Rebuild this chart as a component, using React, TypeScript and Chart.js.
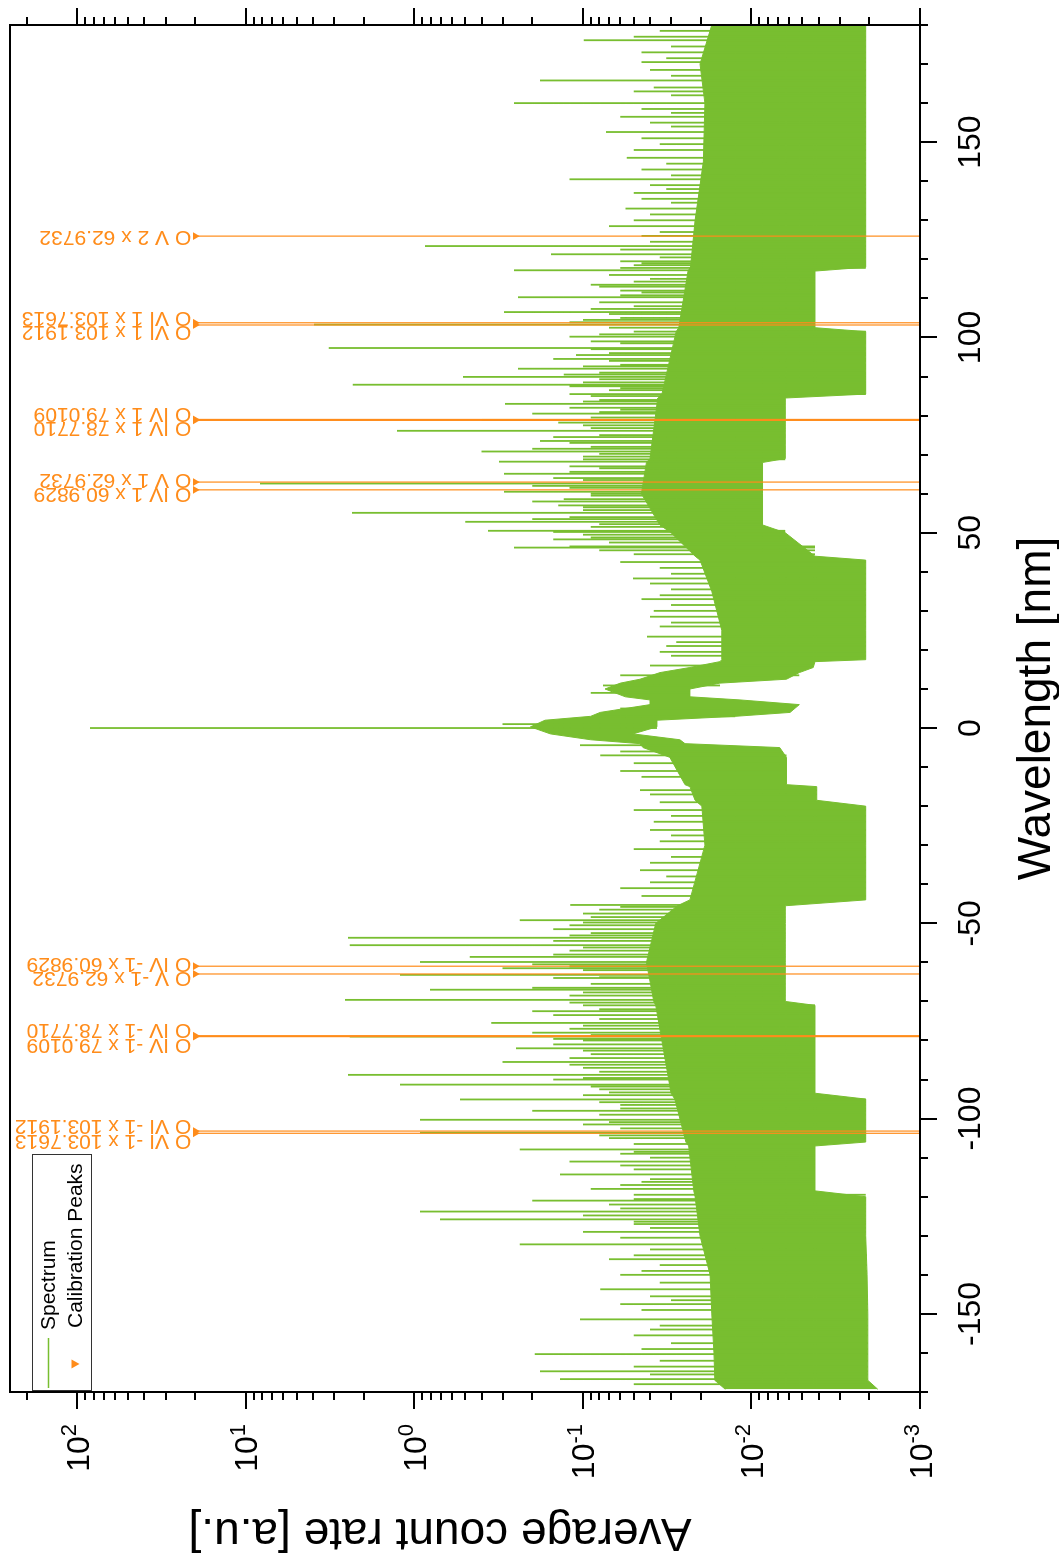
import React, { useEffect, useRef } from "react";
import { Chart, registerables } from "chart.js";

Chart.register(...registerables);

// ---- canvas of the un-rotated chart (the page shows it turned 90° counter-clockwise)
const W = 1559;
const H = 1059;
const GREEN = "rgb(120,190,48)";
const ORANGE = "rgb(255,140,26)";
const FONT = '"Liberation Sans", Arial, Helvetica, sans-serif';

// ---- axis ranges
const xMin = -170;
const xMax = 180;
const yMin = 1e-3;
const yMax = Math.pow(10, 2.4);

// ---- spectrum: dense band (upper / lower envelope of the noisy trace)
const bandWavelength = [
  -169.3, -167, -160, -150, -140, -130, -120, -118.5, -107, -106, -95, -93.5, -71, -70, -60, -50,
  -45.5, -44, -30, -20, -18.5, -15, -14.5, -7.5, -5, -4, -3, -1.5, 0.3, 2.0, 3.0, 4.0, 6.0, 7.2,
  8.0, 10.0, 11.5, 12.5, 14.2, 15.5, 17.0, 17.5, 25, 35, 43, 44, 50, 52, 60, 68, 69, 84.5, 85.5,
  101.5, 102.5, 117, 118, 130, 145, 160, 170, 180,
];
const bandUpper = [
  0.0143, 0.0165, 0.0167, 0.0172, 0.0176, 0.0202, 0.0216, 0.022, 0.0236, 0.0245, 0.0285, 0.03,
  0.037, 0.038, 0.042, 0.037, 0.0275, 0.0232, 0.0189, 0.0197, 0.0216, 0.0232, 0.0248, 0.0305,
  0.044, 0.0459, 0.09, 0.156, 0.205, 0.168, 0.09, 0.079, 0.04, 0.04, 0.056, 0.074, 0.06, 0.0459,
  0.0349, 0.0232, 0.0154, 0.015, 0.015, 0.0172, 0.0202, 0.0216, 0.03, 0.035, 0.045, 0.042,
  0.04, 0.036, 0.034, 0.028, 0.027, 0.0238, 0.023, 0.0216, 0.0193, 0.0189, 0.0202, 0.0172,
];
const bandLower = [
  0.00178, 0.00204, 0.00204, 0.00204, 0.00206, 0.0021, 0.0021, 0.0042, 0.0042, 0.0021, 0.0021,
  0.0042, 0.0042, 0.0063, 0.0063, 0.0063, 0.0063, 0.0021, 0.0021, 0.0021, 0.0041, 0.0041, 0.0062,
  0.0062, 0.0068, 0.0248, 0.0266, 0.0505, 0.0364, 0.0364, 0.0125, 0.0059, 0.0052, 0.0117, 0.0232,
  0.0232, 0.0154, 0.0062, 0.0052, 0.0043, 0.0042, 0.0021, 0.0021, 0.0021, 0.0021, 0.0042, 0.0063,
  0.0086, 0.0086, 0.0086, 0.0063, 0.0063, 0.0021, 0.0021, 0.0042, 0.0042, 0.0021, 0.0021, 0.0021,
  0.0021, 0.0021, 0.0021,
];

// ---- spectrum: tall individual spikes above the band
const spikeWavelength = [
  -166.7, -164.7, -160.3, -155.5, -151.4, -147.5, -143.7, -140, -136, -132.2, -129, -125.8, -123.8,
  -121, -118, -114.3, -111, -107.9, -103.6, -100.3, -98, -95.1, -91.3, -88.8, -85.5, -82, -79.0,
  -75.5, -72.5, -69.6, -67.0, -63.2, -61.5, -59.9, -58.6, -55.6, -53.7, -51.5, -49.2, -45.3, -41,
  -36.4, -31, -26.1, -21, -15.9, -11, -7.0, -4.4, 0.0, 3.0, 10.9, 19.5, 23.4, 28.5, 33, 38.3,
  42.5, 46.2, 48.3, 50.5, 52.8, 55.1, 58.0, 60.5, 62.6, 65.1, 68.2, 70.8, 73.5, 76.1, 78.9, 80.5,
  83.0, 85.5, 87.9, 89.9, 92.0, 94.5, 97.3, 100.2, 103.3, 106.5, 110.3, 113.5, 117.2, 119.5, 121.3,
  123.4, 128.5, 133.0, 137, 140.5, 146, 151.0, 152.6, 156.5, 160.0, 163, 165.8, 170.5, 176.1,
];
const spikeValue = [
  0.137, 0.18, 0.193, 0.05, 0.104, 0.06, 0.079, 0.06, 0.07, 0.237, 0.1, 0.706, 0.927, 0.2, 0.09,
  0.137, 0.12, 0.237, 0.927, 0.927, 0.2, 0.537, 1.22, 2.48, 0.3, 0.25, 2.42, 0.35, 0.2, 2.58,
  0.809, 1.22, 0.3, 0.927, 0.469, 2.42, 2.48, 0.15, 0.237, 0.119, 0.06, 0.0459, 0.05, 0.04, 0.05,
  0.0459, 0.06, 0.079, 0.104, 84.3, 0.0826, 0.076, 0.035, 0.0417, 0.04, 0.045, 0.0505, 0.06,
  0.257, 0.15, 0.366, 0.5, 2.35, 0.2, 0.294, 8.26, 0.294, 0.315, 0.4, 0.18, 1.27, 0.4, 0.2, 0.29,
  0.12, 2.32, 0.515, 0.243, 0.15, 3.22, 0.12, 3.95, 0.294, 0.243, 0.09, 0.257, 0.06, 0.155, 0.867,
  0.07, 0.056, 0.05, 0.12, 0.055, 0.045, 0.073, 0.06, 0.257, 0.05, 0.18, 0.045, 0.099,
];

// ---- spectrum: short spikes that make the ragged edge of the band
const minorSpikeWavelength = [
  -168, -165.5, -163.5, -162, -159, -157.5, -154, -153, -149, -146.5, -145.5, -142, -139, -137.5,
  -135, -133.5, -130.5, -128, -127, -124.8, -122, -119.5, -117, -115.5, -113, -110, -109, -106.5,
  -105, -102.5, -101.5, -99, -96.5, -94, -92.5, -90, -87, -84.5, -83.5, -81, -80, -78, -77, -74.5,
  -73.5, -71, -68.5, -66.5, -65.5, -64, -62, -60.5, -57, -54.5, -52.5, -50.5, -47.5, -46.5, -43,
  -39.5, -38, -34.5, -33, -29, -27.5, -24, -22.5, -19, -17, -12.5, -9, -6, 1, 5, 9, 13.5, 16, 18.5,
  21, 22, 26, 27, 30, 31.5, 34, 35.5, 37, 39.5, 41, 44.5, 45.5, 47.5, 49.5, 51.5, 53.5, 54, 56.5,
  57, 59.5, 61.5, 63.5, 64, 66.5, 67, 69.5, 71.5, 72, 74.5, 75, 77.5, 79.5, 81.5, 82, 84, 86.5, 87,
  88.5, 91, 93, 95.5, 96, 98.5, 99, 101.5, 102.5, 104.5, 105, 108, 109, 111.5, 112, 115, 116,
  118.5, 120.5, 122.5, 124.5, 126, 127, 130, 131.5, 134.5, 135.5, 138, 139, 141.5, 143, 144.5, 148,
  149.5, 154, 155, 157.5, 158.5, 162, 164, 167, 168.5, 171.5, 173, 174.5, 177, 178.5,
  46.5, 48.8, 50.2, 52.2, 55.8, 58.6, 60.0, 62.0, 65.6, 68.8, 70.2, 73.0, 76.8, 78.2, 80.9, 83.6,
  85.0, 87.5, 89.3, 90.5, 92.6, 94.0, 97.0, 100.8, 103.9, 106, 107.3, 110.8, 113, 114.3, 117.8, 119,
  -45.8, -48.4, -49.8, -53.1, -56.2, -58.0, -61.0, -63.8, -67.7, -70.3, -72, -76.2, -78.6, -79.6,
  -82.6, -86.2, -88, -89.6, -91.8, -93.3, -95.8, -97.4, -100.9, -104.3, -108.5, -112, -116.2,
  -120.6, -123, -126.4,
];
const minorSpikeValue = [
  0.05, 0.04, 0.05, 0.035, 0.045, 0.03, 0.04, 0.035, 0.045, 0.03, 0.04, 0.035, 0.045, 0.035, 0.05,
  0.04, 0.06, 0.04, 0.05, 0.1, 0.07, 0.05, 0.06, 0.04, 0.05, 0.04, 0.06, 0.05, 0.07, 0.06, 0.1,
  0.08, 0.06, 0.1, 0.08, 0.15, 0.1, 0.12, 0.09, 0.15, 0.1, 0.2, 0.12, 0.08, 0.15, 0.1, 0.12, 0.2,
  0.09, 0.15, 0.1, 0.2, 0.12, 0.15, 0.09, 0.12, 0.1, 0.08, 0.045, 0.04, 0.032, 0.04, 0.03, 0.035,
  0.03, 0.038, 0.03, 0.035, 0.04, 0.045, 0.05, 0.06, 0.3, 0.06, 0.09, 0.06, 0.04, 0.03, 0.032,
  0.028, 0.035, 0.03, 0.038, 0.03, 0.035, 0.03, 0.04, 0.03, 0.035, 0.05, 0.08, 0.07, 0.1, 0.09,
  0.2, 0.12, 0.1, 0.14, 0.09, 0.12, 0.1, 0.15, 0.08, 0.12, 0.1, 0.2, 0.09, 0.15, 0.08, 0.1, 0.09,
  0.06, 0.12, 0.08, 0.07, 0.06, 0.1, 0.08, 0.06, 0.11, 0.07, 0.06, 0.09, 0.05, 0.07, 0.1, 0.06,
  0.05, 0.08, 0.045, 0.06, 0.04, 0.07, 0.05, 0.035, 0.06, 0.04, 0.045, 0.035, 0.05, 0.04, 0.03,
  0.045, 0.032, 0.04, 0.03, 0.045, 0.032, 0.05, 0.035, 0.03, 0.04, 0.03, 0.045, 0.03, 0.038, 0.03,
  0.04, 0.032, 0.045, 0.03, 0.05, 0.035,
  0.12, 0.09, 0.15, 0.08, 0.1, 0.13, 0.09, 0.2, 0.12, 0.1, 0.08, 0.12, 0.09, 0.14, 0.08, 0.1,
  0.09, 0.12, 0.08, 0.13, 0.1, 0.07, 0.09, 0.08, 0.12, 0.07, 0.09, 0.06, 0.08, 0.05, 0.06, 0.045,
  0.06, 0.09, 0.1, 0.12, 0.1, 0.15, 0.12, 0.08, 0.1, 0.12, 0.08, 0.1, 0.09, 0.15, 0.1, 0.12, 0.08,
  0.1, 0.09, 0.07, 0.08, 0.06, 0.07, 0.08, 0.05, 0.06, 0.045, 0.05, 0.06, 0.05,
];

// ---- calibration peaks
const peakIon = ["O IV", "O V", "O IV", "O IV", "O VI", "O VI", "O V", "O IV", "O V", "O IV", "O IV", "O VI", "O VI"];
const peakOrder = [1, 1, 1, 1, 1, 1, 2, -1, -1, -1, -1, -1, -1];
const peakRest = [
  60.9829, 62.9732, 78.771, 79.0109, 103.1912, 103.7613, 62.9732, 60.9829, 62.9732, 78.771, 79.0109,
  103.1912, 103.7613,
];
const peakMarkerValue = 20;

// ---- tick labels
const wavelengthTickLabels = ["-150", "-100", "-50", "0", "50", "100", "150"];
const wavelengthTickValues = [-150, -100, -50, 0, 50, 100, 150];
const decadeExponents = ["2", "1", "0", "-1", "-2", "-3"];

const peakPositions = peakOrder.map((o, i) => o * peakRest[i]);
const peakLabels = peakOrder.map((o, i) => `${peakIon[i]} ${o} x ${peakRest[i].toFixed(4)}`);

function nearestLower(l: number) {
  let best = 0;
  for (let i = 1; i < bandWavelength.length; i++) {
    if (Math.abs(bandWavelength[i] - l) < Math.abs(bandWavelength[best] - l)) best = i;
  }
  return bandLower[best];
}

const bandHighData = bandWavelength.map((x, i) => ({ x, y: bandUpper[i] }));
const bandLowData = bandWavelength.map((x, i) => ({ x, y: bandLower[i] }));

const allSpikes: [number, number][] = [
  ...spikeWavelength.map((x, i) => [x, spikeValue[i]] as [number, number]),
  ...minorSpikeWavelength.map((x, i) => [x, minorSpikeValue[i]] as [number, number]),
].sort((p, q) => p[0] - q[0]);
const spikeData: { x: number; y: number | null }[] = [];
allSpikes.forEach(([x, v]) => {
  spikeData.push({ x, y: nearestLower(x) }, { x, y: v }, { x, y: null });
});

const peakSorted = peakPositions.map((p, i) => i).sort((a, b) => peakPositions[a] - peakPositions[b]);
const calibLineData: { x: number; y: number | null }[] = [];
peakSorted.forEach((i) => {
  const x = peakPositions[i];
  calibLineData.push({ x, y: peakMarkerValue }, { x, y: yMin }, { x, y: null });
});
const calibMarkerData = peakSorted.map((i) => ({ x: peakPositions[i], y: peakMarkerValue }));

const decorPlugin = {
  id: "decor",
  afterDraw(chart: any) {
    const ctx: CanvasRenderingContext2D = chart.ctx;
    const xs = chart.scales.x;
    const ys = chart.scales.y;
    const a = chart.chartArea;
    ctx.save();

    // --- calibration labels (rotated, reading upwards)
    const markerY = ys.getPixelForValue(peakMarkerValue);
    const groups: number[][] = [];
    peakSorted.forEach((i) => {
      const g = groups[groups.length - 1];
      if (g && Math.abs(peakPositions[i] - peakPositions[g[g.length - 1]]) < 3) g.push(i);
      else groups.push([i]);
    });
    ctx.fillStyle = ORANGE;
    ctx.font = `21px ${FONT}`;
    ctx.textAlign = "left";
    ctx.textBaseline = "middle";
    groups.forEach((g) => {
      const mean = g.reduce((s, i) => s + xs.getPixelForValue(peakPositions[i]), 0) / g.length;
      g.forEach((i, k) => {
        const cx = mean + (k - (g.length - 1) / 2) * 14.3 - 1;
        ctx.save();
        ctx.translate(cx, markerY - 4);
        ctx.rotate(-Math.PI / 2);
        ctx.fillText(peakLabels[i], 0, 0);
        ctx.restore();
      });
    });

    // --- frame
    ctx.strokeStyle = "#000";
    ctx.lineWidth = 2;
    ctx.strokeRect(a.left, a.top, a.right - a.left, a.bottom - a.top);

    // --- wavelength ticks (bottom, outward)
    ctx.beginPath();
    for (let v = xMin; v <= xMax; v += 10) {
      const px = Math.round(xs.getPixelForValue(v));
      const len = v % 50 === 0 ? 17 : 8;
      ctx.moveTo(px, a.bottom);
      ctx.lineTo(px, a.bottom + len);
    }
    ctx.stroke();

    // --- log ticks (left & right, outward)
    ctx.beginPath();
    for (let p = -3; p <= 2; p++) {
      for (let m = 1; m <= 9; m++) {
        const v = m * Math.pow(10, p);
        if (v > yMax * 1.0001) continue;
        const py = Math.round(ys.getPixelForValue(v));
        const len = m === 1 ? 17 : 8;
        ctx.moveTo(a.left, py);
        ctx.lineTo(a.left - len, py);
        ctx.moveTo(a.right, py);
        ctx.lineTo(a.right + len, py);
      }
    }
    ctx.stroke();

    // --- wavelength tick labels
    ctx.fillStyle = "#000";
    ctx.font = `32px ${FONT}`;
    ctx.textAlign = "center";
    ctx.textBaseline = "alphabetic";
    wavelengthTickValues.forEach((v, i) => {
      ctx.fillText(wavelengthTickLabels[i], xs.getPixelForValue(v), a.bottom + 60);
    });

    // --- log tick labels 10^n
    decadeExponents.forEach((e) => {
      const py = ys.getPixelForValue(Math.pow(10, Number(e)));
      ctx.font = `22px ${FONT}`;
      const we = ctx.measureText(e).width;
      ctx.font = `32px ${FONT}`;
      const wb = ctx.measureText("10").width;
      const right = a.left - 32;
      ctx.textAlign = "left";
      ctx.textBaseline = "alphabetic";
      ctx.fillText("10", right - we - wb, py + 11.5);
      ctx.font = `22px ${FONT}`;
      ctx.fillText(e, right - we, py - 1);
    });

    // --- axis titles
    ctx.font = `46px ${FONT}`;
    ctx.textAlign = "center";
    ctx.textBaseline = "alphabetic";
    ctx.fillText("Wavelength [nm]", (a.left + a.right) / 2, 1050);
    ctx.save();
    ctx.translate(40, 440);
    ctx.rotate(-Math.PI / 2);
    ctx.fillText("Average count rate [a.u.]", 0, 0);
    ctx.restore();

    // --- legend
    const lx = a.left + 1;
    const ly = 32;
    ctx.lineWidth = 1;
    ctx.strokeStyle = "#333";
    ctx.strokeRect(lx + 0.5, ly + 0.5, 236, 59);
    ctx.strokeStyle = GREEN;
    ctx.lineWidth = 1.5;
    ctx.beginPath();
    ctx.moveTo(a.left + 4, 48.5);
    ctx.lineTo(a.left + 54, 48.5);
    ctx.stroke();
    ctx.fillStyle = ORANGE;
    ctx.beginPath();
    const tx = a.left + 28;
    const ty = 75;
    ctx.moveTo(tx - 4.5, ty - 3.5);
    ctx.lineTo(tx + 4.5, ty - 3.5);
    ctx.lineTo(tx, ty + 4.5);
    ctx.closePath();
    ctx.fill();
    ctx.fillStyle = "#000";
    ctx.font = `21px ${FONT}`;
    ctx.textAlign = "left";
    ctx.textBaseline = "middle";
    ctx.fillText("Spectrum", a.left + 62, 49);
    ctx.fillText("Calibration Peaks", a.left + 64, 76);

    ctx.restore();
  },
};

export default function App() {
  const ref = useRef<HTMLCanvasElement>(null);
  useEffect(() => {
    const canvas = ref.current;
    if (!canvas) return;
    const chart = new Chart(canvas, {
      type: "line",
      data: {
        datasets: [
          {
            label: "bandHigh",
            data: bandHighData,
            borderColor: GREEN,
            borderWidth: 1,
            pointRadius: 0,
            fill: false,
            order: 4,
          },
          {
            label: "Spectrum",
            data: bandLowData,
            borderColor: GREEN,
            backgroundColor: GREEN,
            borderWidth: 1,
            pointRadius: 0,
            fill: "-1",
            order: 4,
          },
          {
            label: "spikes",
            data: spikeData,
            borderColor: GREEN,
            borderWidth: 1.8,
            pointRadius: 0,
            fill: false,
            spanGaps: false,
            order: 3,
          },
          {
            label: "calibLines",
            data: calibLineData,
            borderColor: ORANGE,
            borderWidth: 1.2,
            pointRadius: 0,
            fill: false,
            spanGaps: false,
            order: 2,
          },
          {
            label: "Calibration Peaks",
            data: calibMarkerData,
            showLine: false,
            pointStyle: "triangle",
            rotation: 180,
            pointRadius: 4.5,
            backgroundColor: ORANGE,
            borderColor: ORANGE,
            borderWidth: 0,
            order: 1,
          },
        ] as any,
      },
      options: {
        animation: false,
        responsive: false,
        maintainAspectRatio: false,
        devicePixelRatio: 1,
        events: [],
        layout: { padding: { left: 167, right: 25, top: 10, bottom: 139 } },
        elements: { line: { tension: 0 } },
        plugins: { legend: { display: false }, tooltip: { enabled: false }, title: { display: false } },
        scales: {
          x: { type: "linear", min: xMin, max: xMax, display: false },
          y: { type: "logarithmic", min: yMin, max: yMax, display: false },
        },
      } as any,
      plugins: [decorPlugin],
    });
    return () => chart.destroy();
  }, []);

  return (
    <div
      style={{
        position: "absolute",
        left: 0,
        top: 0,
        width: H,
        height: W,
        overflow: "hidden",
        background: "#fff",
      }}
    >
      <div
        style={{
          position: "absolute",
          left: 0,
          top: 0,
          width: W,
          height: H,
          transformOrigin: "0 0",
          transform: `translateY(${W}px) rotate(-90deg)`,
        }}
      >
        <canvas ref={ref} width={W} height={H} style={{ width: W, height: H, display: "block" }} />
      </div>
    </div>
  );
}
